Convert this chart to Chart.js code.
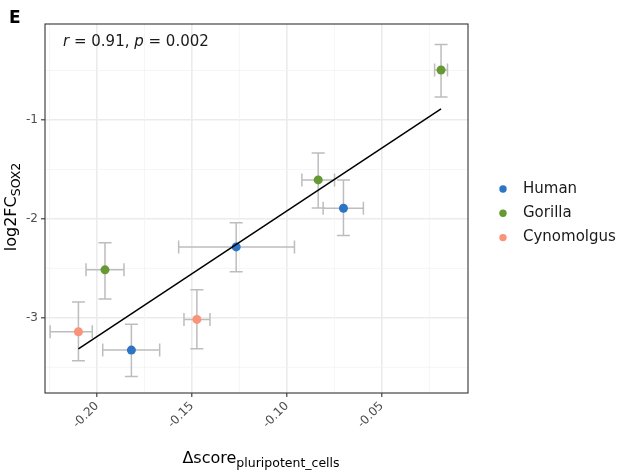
<!DOCTYPE html>
<html>
<head>
<meta charset="utf-8">
<script src="https://cdn.jsdelivr.net/npm/chart.js@4"></script>
<style>
  body { margin: 0; background: #fff; }
  #wrap { width: 622px; height: 471px; }
</style>
</head>
<body>
<div id="wrap"><canvas id="myChart" width="622" height="471"></canvas></div>
<script>
// values
const species = ["Human", "Gorilla", "Cynomolgus"]
const colors = ["#2C74C4", "#669933", "#F99379"]

const humanX = [-0.1819, -0.1267, -0.0702]
const humanY = [-3.326, -2.283, -1.892]
const humanXLo = [-0.197, -0.157, -0.0809]
const humanXHi = [-0.167, -0.096, -0.0597]
const humanYLo = [-3.593, -2.535, -2.168]
const humanYHi = [-3.065, -2.040, -1.606]

const gorillaX = [-0.1958, -0.0835, -0.0188]
const gorillaY = [-2.515, -1.606, -0.495]
const gorillaXLo = [-0.2058, -0.0921, -0.0222]
const gorillaXHi = [-0.1858, -0.0749, -0.0154]
const gorillaYLo = [-2.810, -1.889, -0.768]
const gorillaYHi = [-2.240, -1.333, -0.237]

const cynoX = [-0.2098, -0.1474]
const cynoY = [-3.141, -3.016]
const cynoXLo = [-0.2247, -0.1542]
const cynoXHi = [-0.2025, -0.1405]
const cynoYLo = [-3.434, -3.313]
const cynoYHi = [-2.840, -2.717]

// fitted line end points
const fitX = [-0.2098, -0.0188]
const fitY = [-3.313, -0.889]

const xTicks = [-0.20, -0.15, -0.10, -0.05]
const xMinor = [-0.225, -0.175, -0.125, -0.075, -0.025]
const yTicks = [-3, -2, -1]
const yMinor = [-3.5, -2.5, -1.5, -0.5]

const xs = [humanX, gorillaX, cynoX]
const ys = [humanY, gorillaY, cynoY]
const errs = [
  [humanXLo, humanXHi, humanYLo, humanYHi],
  [gorillaXLo, gorillaXHi, gorillaYLo, gorillaYHi],
  [cynoXLo, cynoXHi, cynoYLo, cynoYHi]
]

Chart.defaults.font.family = "'DejaVu Sans', sans-serif"

const pointSets = species.map((name, i) => ({
  type: 'scatter',
  label: name,
  data: xs[i].map((x, j) => ({ x: x, y: ys[i][j] })),
  backgroundColor: colors[i],
  borderColor: colors[i],
  pointRadius: 4.5,
  pointBorderWidth: 0,
  order: 2
}))

const fitSet = {
  type: 'line',
  label: 'fit',
  data: fitX.map((x, j) => ({ x: x, y: fitY[j] })),
  borderColor: '#000',
  borderWidth: 1.5,
  pointRadius: 0,
  fill: false,
  order: 1
}

function drawSub(ctx, main, sub, x, y, size, subSize, shift) {
  ctx.font = size + "px 'DejaVu Sans'"
  const w1 = ctx.measureText(main).width
  ctx.font = subSize + "px 'DejaVu Sans'"
  const w2 = ctx.measureText(sub).width
  const start = x - (w1 + w2) / 2
  ctx.textAlign = 'left'
  ctx.textBaseline = 'alphabetic'
  ctx.font = size + "px 'DejaVu Sans'"
  ctx.fillText(main, start, y)
  ctx.font = subSize + "px 'DejaVu Sans'"
  ctx.fillText(sub, start + w1, y + shift)
}

const extras = {
  id: 'extras',
  beforeDatasetsDraw(chart) {
    const ctx = chart.ctx
    const sx = chart.scales.x
    const sy = chart.scales.y
    const a = chart.chartArea
    ctx.save()
    // minor grid
    ctx.strokeStyle = '#f2f2f2'
    ctx.lineWidth = 0.8
    xMinor.forEach(v => {
      const px = sx.getPixelForValue(v)
      ctx.beginPath(); ctx.moveTo(px, a.top); ctx.lineTo(px, a.bottom); ctx.stroke()
    })
    yMinor.forEach(v => {
      const py = sy.getPixelForValue(v)
      ctx.beginPath(); ctx.moveTo(a.left, py); ctx.lineTo(a.right, py); ctx.stroke()
    })
    // error bars
    ctx.strokeStyle = '#bdbdbd'
    ctx.lineWidth = 1.5
    const cap = 6.5
    errs.forEach((e, i) => {
      xs[i].forEach((x, j) => {
        const px = sx.getPixelForValue(x)
        const py = sy.getPixelForValue(ys[i][j])
        const xl = sx.getPixelForValue(e[0][j])
        const xh = sx.getPixelForValue(e[1][j])
        const yl = sy.getPixelForValue(e[2][j])
        const yh = sy.getPixelForValue(e[3][j])
        ctx.beginPath()
        ctx.moveTo(xl, py); ctx.lineTo(xh, py)
        ctx.moveTo(xl, py - cap); ctx.lineTo(xl, py + cap)
        ctx.moveTo(xh, py - cap); ctx.lineTo(xh, py + cap)
        ctx.moveTo(px, yl); ctx.lineTo(px, yh)
        ctx.moveTo(px - cap, yl); ctx.lineTo(px + cap, yl)
        ctx.moveTo(px - cap, yh); ctx.lineTo(px + cap, yh)
        ctx.stroke()
      })
    })
    ctx.restore()
  },
  afterDraw(chart) {
    const ctx = chart.ctx
    const a = chart.chartArea
    ctx.save()
    // panel border
    ctx.strokeStyle = '#333'
    ctx.lineWidth = 1.1
    ctx.strokeRect(a.left, a.top, a.right - a.left, a.bottom - a.top)

    ctx.fillStyle = '#000'
    ctx.font = "bold 17px 'DejaVu Sans'"
    ctx.textAlign = 'left'
    ctx.textBaseline = 'alphabetic'
    ctx.fillText('E', 9, 23)

    // annotation
    ctx.fillStyle = '#1a1a1a'
    let x = 63
    const by = 46
    const parts = [['r', true], [' = 0.91, ', false], ['p', true], [' = 0.002', false]]
    parts.forEach(p => {
      ctx.font = (p[1] ? 'italic ' : '') + "15px 'DejaVu Sans'"
      ctx.fillText(p[0], x, by)
      x += ctx.measureText(p[0]).width
    })

    // axis titles
    ctx.fillStyle = '#000'
    drawSub(ctx, 'Δscore', 'pluripotent_cells', 261, 463, 16, 12.5, 4)
    ctx.save()
    ctx.translate(16, 207)
    ctx.rotate(-Math.PI / 2)
    drawSub(ctx, 'log2FC', 'SOX2', 0, 0, 16, 12.5, 4)
    ctx.restore()

    // legend
    species.forEach((name, i) => {
      const ly = 189 + i * 24.3
      ctx.fillStyle = colors[i]
      ctx.beginPath(); ctx.arc(503, ly, 3.7, 0, Math.PI * 2); ctx.fill()
      ctx.fillStyle = '#1a1a1a'
      ctx.font = "15px 'DejaVu Sans'"
      ctx.textBaseline = 'middle'
      ctx.fillText(name, 523, ly)
    })
    ctx.restore()
  }
}

const ctx = document.getElementById('myChart').getContext('2d')

const myChart = new Chart(ctx, {
  data: { datasets: [...pointSets, fitSet] },
  options: {
    responsive: false,
    animation: false,
    layout: { padding: { top: 24, right: 154, left: 0, bottom: 0 } },
    plugins: {
      legend: { display: false },
      tooltip: { enabled: false }
    },
    scales: {
      x: {
        type: 'linear',
        min: -0.2274,
        max: -0.0046,
        afterBuildTicks: s => { s.ticks = xTicks.map(v => ({ value: v })) },
        afterFit: s => { s.height = 78 },
        grid: { color: '#ebebeb', lineWidth: 1.6, tickLength: 4, tickColor: '#333', tickWidth: 1.1 },
        border: { display: false },
        ticks: {
          minRotation: 45,
          maxRotation: 45,
          padding: 2,
          color: '#4d4d4d',
          font: { size: 12 },
          callback: v => v.toFixed(2)
        }
      },
      y: {
        type: 'linear',
        min: -3.76,
        max: -0.03,
        afterBuildTicks: s => { s.ticks = yTicks.map(v => ({ value: v })) },
        afterFit: s => { s.width = 45 },
        grid: { color: '#ebebeb', lineWidth: 1.6, tickLength: 4, tickColor: '#333', tickWidth: 1.1 },
        border: { display: false },
        ticks: {
          padding: 3,
          color: '#4d4d4d',
          font: { size: 12 },
          callback: v => String(v)
        }
      }
    }
  },
  plugins: [extras]
})
</script>
</body>
</html>
